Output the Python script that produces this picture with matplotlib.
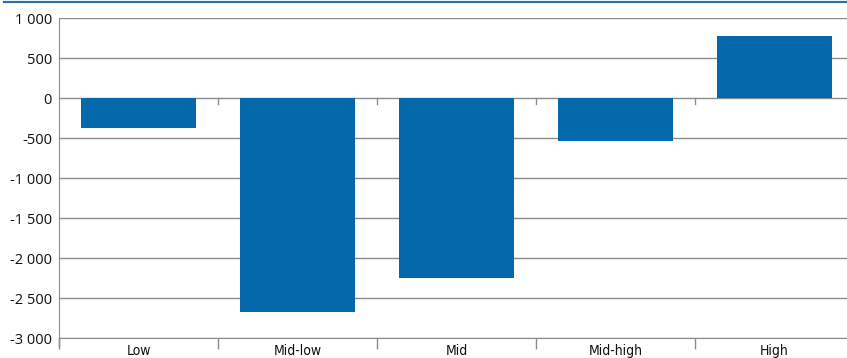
import matplotlib
matplotlib.use("Agg")
import matplotlib.pyplot as plt
from matplotlib.lines import Line2D
from matplotlib.ticker import FuncFormatter
import numpy as np

categories = ["Low", "Mid-low", "Mid", "Mid-high", "High"]
values = [-375, -2670, -2250, -540, 775]
y_ticks = [1000, 500, 0, -500, -1000, -1500, -2000, -2500, -3000]

BAR_COLOR = "#0468ab"
GRID_COLOR = "#8c8c8c"
TEXT_COLOR = "#111111"

fig = plt.figure(figsize=(8.47, 3.58), dpi=100)
ax = fig.add_axes([59 / 847, 20 / 358, 795 / 847, 320 / 358])

x = np.arange(len(categories))
ax.bar(x, values, width=0.725, color=BAR_COLOR, zorder=3)

ax.set_xlim(-0.5, len(categories) - 0.5)
ax.set_ylim(min(y_ticks), max(y_ticks))

# horizontal gridlines
ax.set_yticks(y_ticks)
ax.yaxis.grid(True, color=GRID_COLOR, linewidth=1.0, zorder=1)
ax.set_axisbelow(True)
ax.yaxis.set_major_formatter(FuncFormatter(lambda v, _: f"{int(v):,}".replace(",", " ")))
ax.tick_params(axis="y", length=0, pad=5, labelsize=10.5, labelcolor=TEXT_COLOR)
for lab in ax.get_yticklabels():
    lab.set_fontfamily("Open Sans")

# category labels centred, ticks between categories
ax.set_xticks(x)
ax.set_xticklabels(categories)
ax.set_xticks(np.arange(len(categories) + 1) - 0.5, minor=True)
ax.tick_params(axis="x", which="major", length=0, pad=4, labelsize=10, labelcolor=TEXT_COLOR)
ax.tick_params(axis="x", which="minor", length=8, width=1, color=GRID_COLOR)
for lab in ax.get_xticklabels():
    lab.set_fontfamily(["DejaVu Sans"])
    lab.set_fontstretch("condensed")
    lab.set_fontweight("medium")

for side in ["top", "right"]:
    ax.spines[side].set_visible(False)
ax.spines["left"].set_color(GRID_COLOR)
ax.spines["bottom"].set_color(GRID_COLOR)
ax.spines["left"].set_bounds(min(y_ticks), max(y_ticks))

# left axis extends a little below the bottom line
ax.plot([0, 0], [0, -8 / 320], transform=ax.transAxes, color=GRID_COLOR,
        linewidth=1, clip_on=False)

# small category ticks hanging from the zero line
zero_ticks = np.arange(1, len(categories)) - 0.5
for xt in zero_ticks:
    ax.plot([xt, xt], [0, -75], color=GRID_COLOR, linewidth=1, zorder=2)

# rule across the top of the figure
fig.add_artist(Line2D([4 / 847, 1], [1 - 1.5 / 358, 1 - 1.5 / 358],
                      transform=fig.transFigure, color="#2f6fa6", linewidth=1.6))

fig.savefig("out.png", dpi=100)
